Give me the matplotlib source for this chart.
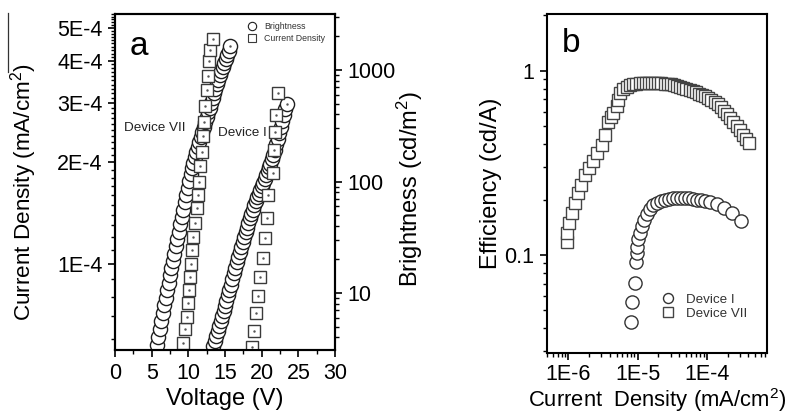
import matplotlib
matplotlib.use("Agg")
import matplotlib.pyplot as plt
import matplotlib.ticker as mticker
from matplotlib.lines import Line2D

plt.rcParams['font.family'] = ['Liberation Sans', 'DejaVu Sans']
plt.rcParams['mathtext.fontset'] = 'custom'
plt.rcParams['mathtext.rm'] = 'Liberation Sans'
plt.rcParams['mathtext.it'] = 'Liberation Sans:italic'

# ---------------- Panel a data ----------------
# Current density (squares, left axis)
v7_sq = [9.23, 9.55, 9.78, 9.99, 10.09, 10.23, 10.36, 10.54, 10.68, 10.91, 11.14, 11.36,
         11.50, 11.59, 11.82, 11.96, 12.14, 12.27, 12.59, 12.72, 12.86, 12.95, 13.32]
j7_sq = [5.83e-5, 6.41e-5, 6.98e-5, 7.65e-5, 8.38e-5, 9.17e-5, 1.0e-4, 1.10e-4, 1.205e-4,
         1.325e-4, 1.46e-4, 1.60e-4, 1.75e-4, 1.95e-4, 2.15e-4, 2.40e-4, 2.64e-4, 2.94e-4,
         3.27e-4, 3.61e-4, 3.99e-4, 4.30e-4, 4.63e-4]
v1_sq = [18.64, 19.0, 19.23, 19.54, 19.77, 20.14, 20.45, 20.69, 20.90, 21.50, 21.72, 21.85,
         22.0, 22.27]
j1_sq = [5.69e-5, 6.31e-5, 7.15e-5, 8.04e-5, 9.17e-5, 1.044e-4, 1.19e-4, 1.365e-4, 1.60e-4,
         1.855e-4, 2.17e-4, 2.46e-4, 2.76e-4, 3.20e-4]

# Brightness (circles, right axis)
v7_br = [5.7, 5.9, 6.1, 6.3, 6.5, 6.7, 6.9, 7.1, 7.3, 7.5, 7.7, 7.9, 8.1, 8.3, 8.5, 8.7,
         8.9, 9.1, 9.3, 9.5, 9.7, 9.9, 10.1, 10.3, 10.5, 10.7, 10.9, 11.1, 11.3, 11.5, 11.7,
         11.9, 12.1, 12.3, 12.5, 12.7, 12.9, 13.1, 13.3, 13.5, 13.7, 13.9, 14.1, 14.3, 14.5,
         14.7, 14.9, 15.1, 15.3, 15.5, 15.7]
b7_br = [3.43, 4.05, 4.78, 5.64, 6.64, 7.76, 9.08, 10.6, 12.4, 14.4, 16.8, 19.5, 22.6, 26.3,
         30.5, 35.5, 41.3, 48.1, 56.0, 65.2, 75.9, 88.1, 102, 116, 132, 148, 166, 185, 206,
         228, 252, 279, 309, 341, 377, 416, 459, 507, 560, 617, 678, 745, 817, 893, 975,
         1064, 1159, 1262, 1374, 1496, 1629]
v1_br = [13.4, 13.6, 13.8, 14.0, 14.2, 14.4, 14.6, 14.8, 15.0, 15.2, 15.4, 15.6, 15.8, 16.0,
         16.2, 16.4, 16.6, 16.8, 17.0, 17.2, 17.4, 17.6, 17.8, 18.0, 18.2, 18.4, 18.6, 18.8,
         19.0, 19.2, 19.4, 19.6, 19.8, 20.0, 20.2, 20.4, 20.6, 20.8, 21.0, 21.2, 21.4, 21.6,
         21.8, 22.0, 22.2, 22.4, 22.6, 22.8, 23.0, 23.2, 23.4]
b1_br = [3.32, 3.69, 4.09, 4.55, 5.05, 5.61, 6.22, 6.92, 7.67, 8.53, 9.53, 10.7, 11.9, 13.4,
         15.0, 16.7, 18.8, 21.0, 23.5, 26.1, 28.8, 31.8, 35.1, 38.6, 42.5, 46.7, 51.2, 56.0,
         61.1, 66.5, 72.1, 78.0, 84.1, 90.8, 97.9, 106, 114, 123, 134, 145, 158, 174, 191,
         216, 243, 274, 309, 348, 393, 443, 499]

# ---------------- Panel b data ----------------
j7_eff = [9.6e-7, 9.6e-7, 1.01e-6, 1.13e-6, 1.26e-6, 1.39e-6, 1.52e-6, 1.72e-6, 1.96e-6,
          2.26e-6, 2.61e-6, 3.05e-6, 3.40e-6, 3.80e-6, 4.15e-6, 4.49e-6, 5.02e-6, 5.30e-6,
          5.60e-6, 6.25e-6, 7.0e-6, 7.8e-6, 8.7e-6, 9.6e-6, 1.07e-5, 1.19e-5, 1.32e-5,
          1.46e-5, 1.62e-5, 1.80e-5, 2.0e-5, 2.22e-5, 2.46e-5, 2.73e-5, 3.03e-5, 3.36e-5,
          3.73e-5, 4.14e-5, 4.6e-5, 5.1e-5, 5.66e-5, 6.28e-5, 6.97e-5, 7.74e-5, 8.6e-5,
          9.5e-5, 1.06e-4, 1.17e-4, 1.30e-4, 1.45e-4, 1.60e-4, 1.78e-4, 1.98e-4, 2.19e-4,
          2.43e-4, 2.70e-4, 3.0e-4, 3.33e-4, 3.70e-4, 4.06e-4]
e7_eff = [0.117, 0.131, 0.149, 0.170, 0.192, 0.217, 0.240, 0.272, 0.296, 0.322, 0.358, 0.396,
          0.449, 0.530, 0.560, 0.589, 0.640, 0.695, 0.756, 0.795, 0.820, 0.835, 0.845, 0.850,
          0.853, 0.855, 0.857, 0.858, 0.858, 0.858, 0.857, 0.855, 0.852, 0.848, 0.843, 0.836,
          0.828, 0.818, 0.806, 0.792, 0.785, 0.776, 0.765, 0.752, 0.740, 0.728, 0.713, 0.697,
          0.678, 0.658, 0.635, 0.608, 0.582, 0.555, 0.527, 0.500, 0.474, 0.448, 0.424, 0.405]
j1_eff = [8.06e-6, 8.41e-6, 9.2e-6, 9.42e-6, 9.73e-6, 9.94e-6, 1.03e-5, 1.09e-5, 1.15e-5,
          1.25e-5, 1.36e-5, 1.51e-5, 1.69e-5, 1.89e-5, 2.16e-5, 2.47e-5, 2.82e-5, 3.22e-5,
          3.68e-5, 4.2e-5, 4.8e-5, 5.5e-5, 6.3e-5, 7.2e-5, 8.2e-5, 9.3e-5, 1.13e-4, 1.4e-4,
          1.75e-4, 2.3e-4, 3.16e-4]
e1_eff = [0.0434, 0.0553, 0.0701, 0.092, 0.102, 0.111, 0.122, 0.131, 0.143, 0.155, 0.166,
          0.177, 0.186, 0.192, 0.196, 0.199, 0.201, 0.203, 0.204, 0.204, 0.204, 0.203, 0.202,
          0.200, 0.199, 0.197, 0.194, 0.188, 0.180, 0.168, 0.1535]

# tick labels
a_left_ticks = [1e-4, 2e-4, 3e-4, 4e-4, 5e-4]
a_left_labels = ['1E-4', '2E-4', '3E-4', '4E-4', '5E-4']
a_right_ticks = [10, 100, 1000]
a_right_labels = ['10', '100', '1000']
b_x_ticks = [1e-6, 1e-5, 1e-4]
b_x_labels = ['1E-6', '1E-5', '1E-4']
b_y_ticks = [0.1, 1]
b_y_labels = ['0.1', '1']

# ---------------- styles ----------------
SQ_EDGE = '#3a3a3a'
CI_EDGE = '#1e1e1e'
TICK_FS = 15.5
LAB_FS = 17

fig = plt.figure(figsize=(7.97, 4.13), dpi=100)

def style_ticks(ax):
    ax.tick_params(which='major', direction='out', length=5, width=1.2, labelsize=TICK_FS, pad=4)
    ax.tick_params(which='minor', direction='out', length=3, width=1.0)
    for s in ax.spines.values():
        s.set_linewidth(1.5)

# ---------- Panel a ----------
axA = fig.add_axes([0.1443, 0.1525, 0.2760, 0.8136])
axR = axA.twinx()
axA.set_zorder(axR.get_zorder() + 1)
axA.patch.set_visible(False)

axA.set_xlim(0, 30)
axA.set_yscale('log')
axA.set_ylim(5.56e-5, 5.5e-4)
axR.set_yscale('log')
axR.set_ylim(3.08, 3180)

# circles (brightness) on right axis
for v, b in ((v7_br, b7_br), (v1_br, b1_br)):
    axR.plot(v, b, ls='none', marker='o', ms=10.2, mfc='white', mec=CI_EDGE, mew=1.0)
    axR.plot(v[-1:], b[-1:], ls='none', marker='.', ms=1.5, color='#555555')
# squares (current density) on left axis
for v, j in ((v7_sq, j7_sq), (v1_sq, j1_sq)):
    axA.plot(v, j, ls='none', marker='s', ms=9.0, mfc='white', mec=SQ_EDGE, mew=1.0)
    axA.plot(v, j, ls='none', marker='.', ms=1.5, color='#555555')

axA.xaxis.set_major_locator(mticker.MultipleLocator(5))
axA.xaxis.set_minor_locator(mticker.MultipleLocator(2.5))
axA.yaxis.set_major_locator(mticker.FixedLocator(a_left_ticks))
axA.yaxis.set_major_formatter(mticker.FixedFormatter(a_left_labels))
axA.yaxis.set_minor_locator(mticker.MultipleLocator(1e-5))
axA.yaxis.set_minor_formatter(mticker.NullFormatter())
axR.yaxis.set_major_locator(mticker.FixedLocator(a_right_ticks))
axR.yaxis.set_major_formatter(mticker.FixedFormatter(a_right_labels))
axR.yaxis.set_minor_locator(mticker.LogLocator(base=10, subs=range(2, 10)))
axR.yaxis.set_minor_formatter(mticker.NullFormatter())
style_ticks(axA)
style_ticks(axR)
axA.tick_params(axis='x', which='both', top=False)
axR.tick_params(axis='x', which='both', top=False, bottom=False, labelbottom=False)

axA.set_xlabel('Voltage (V)', fontsize=LAB_FS)
axA.xaxis.set_label_coords(0.5, -0.112)
axA.set_ylabel('Current Density (mA/cm$^2$)', fontsize=16.2)
axA.yaxis.set_label_coords(-0.345, 0.47)
axR.set_ylabel('Brightness (cd/m$^2$)', fontsize=LAB_FS)
axR.yaxis.set_label_coords(1.27, 0.48)

axA.text(0.068, 0.878, 'a', transform=axA.transAxes, fontsize=24, va='baseline')
axA.text(0.041, 0.661, 'Device VII', transform=axA.transAxes, fontsize=9.7, va='center',
         color='#222222')
axA.text(0.468, 0.646, 'Device I', transform=axA.transAxes, fontsize=9.7, va='center',
         color='#222222')

hA = [Line2D([], [], ls='none', marker='o', ms=6, mfc='white', mec=CI_EDGE, mew=0.8),
      Line2D([], [], ls='none', marker='s', ms=5.5, mfc='white', mec=SQ_EDGE, mew=0.8)]
legA = axA.legend(hA, ['Brightness', 'Current Density'], loc='upper left',
                  bbox_to_anchor=(0.605, 0.975), frameon=False, fontsize=6.3,
                  handlelength=1.0, handletextpad=0.8, borderpad=0, borderaxespad=0,
                  labelspacing=0.35)
for t in legA.get_texts():
    t.set_color('#333333')

# ---------- Panel b ----------
axB = fig.add_axes([0.686, 0.146, 0.276, 0.820])
axB.set_xscale('log')
axB.set_yscale('log')
axB.set_xlim(4.88e-7, 7.36e-4)
axB.set_ylim(0.0295, 2.03)

axB.plot(j1_eff, e1_eff, ls='none', marker='o', ms=9.5, mfc='white', mec='#333333', mew=1.0)
axB.plot(j7_eff, e7_eff, ls='none', marker='s', ms=8.7, mfc='white', mec='#444444', mew=1.0)

axB.xaxis.set_major_locator(mticker.FixedLocator(b_x_ticks))
axB.xaxis.set_major_formatter(mticker.FixedFormatter(b_x_labels))
axB.xaxis.set_minor_locator(mticker.LogLocator(base=10, subs=range(2, 10)))
axB.xaxis.set_minor_formatter(mticker.NullFormatter())
axB.yaxis.set_major_locator(mticker.FixedLocator(b_y_ticks))
axB.yaxis.set_major_formatter(mticker.FixedFormatter(b_y_labels))
axB.yaxis.set_minor_locator(mticker.LogLocator(base=10, subs=range(2, 10)))
axB.yaxis.set_minor_formatter(mticker.NullFormatter())
style_ticks(axB)
axB.tick_params(which='both', top=False, right=False)
axB.tick_params(axis='x', which='major', pad=3)

axB.set_xlabel('Current  Density (mA/cm$^{\\mathdefault{2}}$)', fontsize=15.8)
axB.xaxis.set_label_coords(0.5, -0.1)
axB.set_ylabel('Efficiency (cd/A)', fontsize=LAB_FS)
axB.yaxis.set_label_coords(-0.205, 0.5)
axB.text(0.07, 0.888, 'b', transform=axB.transAxes, fontsize=24, va='baseline')

hB = [Line2D([], [], ls='none', marker='o', ms=7.2, mfc='white', mec='#333333', mew=1.0),
      Line2D([], [], ls='none', marker='s', ms=6.8, mfc='white', mec='#444444', mew=1.0)]
legB = axB.legend(hB, ['Device I', 'Device VII'], loc='upper left',
                  bbox_to_anchor=(0.52, 0.175), frameon=False, fontsize=9.6,
                  handlelength=1.0, handletextpad=0.9, borderpad=0, borderaxespad=0,
                  labelspacing=0.15)
for t in legB.get_texts():
    t.set_color('#333333')

# stray vertical rule at the far left of the original figure
fig.add_artist(Line2D([0.0105, 0.0105], [0.9685, 0.826], transform=fig.transFigure,
                      color='#333333', lw=0.9))

fig.savefig('out.png', dpi=100)
